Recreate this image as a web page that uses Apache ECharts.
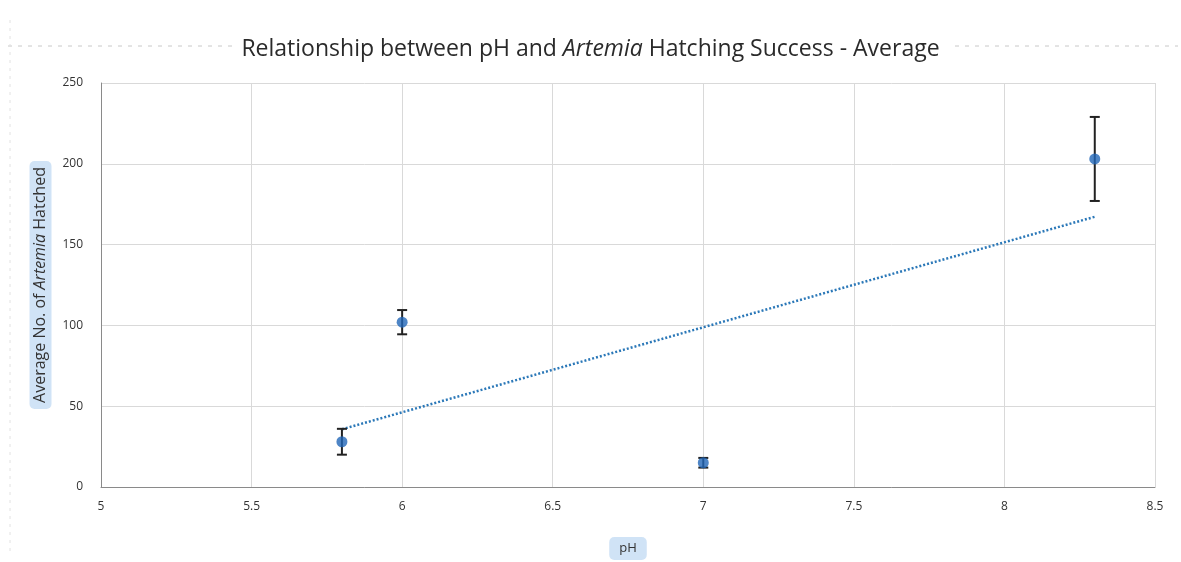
<!DOCTYPE html>
<html>
<head>
<meta charset="utf-8">
<script src="https://cdn.jsdelivr.net/npm/echarts@6/dist/echarts.min.js"></script>
<style>
html,body{margin:0;padding:0;background:#fff;}
#chart{width:1181px;height:562px;}
</style>
</head>
<body>
<div id="chart"></div>
<script>
// ---- data ----
var phValues = [5.8, 6, 7, 8.3];
var avgHatched = [28, 102, 15, 203];
var errorAmount = [8, 7.5, 3, 26];
var xTicks = [5, 5.5, 6, 6.5, 7, 7.5, 8, 8.5];
var yTicks = [0, 50, 100, 150, 200, 250];

// least-squares linear trendline from the data
function linearFit(xs, ys) {
  var n = xs.length, mx = 0, my = 0;
  for (var i = 0; i < n; i++) { mx += xs[i]; my += ys[i]; }
  mx /= n; my /= n;
  var sxx = 0, sxy = 0;
  for (var j = 0; j < n; j++) { sxx += (xs[j]-mx)*(xs[j]-mx); sxy += (xs[j]-mx)*(ys[j]-my); }
  var b = sxy / sxx; return { a: my - b*mx, b: b };
}
var fit = linearFit(phValues, avgHatched);
var xMinData = Math.min.apply(null, phValues), xMaxData = Math.max.apply(null, phValues);
var trendData = [[xMinData, fit.a + fit.b*xMinData], [xMaxData, fit.a + fit.b*xMaxData]];

var pointData = phValues.map(function(x, i){ return [x, avgHatched[i]]; });
var errData = phValues.map(function(x, i){ return [x, avgHatched[i]-errorAmount[i], avgHatched[i]+errorAmount[i]]; });

var chart = echarts.init(document.getElementById('chart'));
var font = '"Open Sans", "Liberation Sans", sans-serif';
chart.setOption({
  backgroundColor: '#fff',
  animation: false,
  title: {
    text: '{n|Relationship between pH and }{i|Artemia}{n| Hatching Success - Average}',
    left: 'center', top: 33,
    textStyle: {
      fontWeight: 'normal',
      rich: {
        n: { fontFamily: font, fontSize: 23, color: '#2a2a2a', fontWeight: 'normal' },
        i: { fontFamily: font, fontSize: 23, color: '#2a2a2a', fontStyle: 'italic', fontWeight: 'normal' }
      }
    }
  },
  graphic: [
    { type: 'line', shape: { x1: 8, y1: 46, x2: 232, y2: 46 }, style: { stroke: '#c8c8c8', lineWidth: 1, lineDash: [4, 6] } },
    { type: 'line', shape: { x1: 955, y1: 46, x2: 1178, y2: 46 }, style: { stroke: '#c8c8c8', lineWidth: 1, lineDash: [4, 6] } },
    { type: 'line', shape: { x1: 10, y1: 20, x2: 10, y2: 555 }, style: { stroke: '#e2e2e2', lineWidth: 1, lineDash: [3, 5] } }
  ],
  grid: { left: 101, right: 26, top: 83, bottom: 75, containLabel: false, outerBoundsMode: 'none' },
  xAxis: {
    type: 'value', min: xTicks[0], max: xTicks[xTicks.length-1], interval: 0.5,
    name: 'pH', nameLocation: 'middle', nameGap: 50,
    nameTextStyle: { fontFamily: font, fontSize: 13, color: '#333', backgroundColor: 'rgba(120,175,230,0.35)', padding: [5, 10, 5, 10], borderRadius: 5 },
    axisLine: { show: true, lineStyle: { color: '#8a8a8a', width: 1 } },
    axisTick: { show: false },
    axisLabel: { fontFamily: font, fontSize: 12, color: '#333', margin: 14 },
    splitLine: { show: true, lineStyle: { color: '#d9d9d9', width: 1 } }
  },
  yAxis: {
    type: 'value', min: yTicks[0], max: yTicks[yTicks.length-1], interval: 50,
    name: '{n|Average No. of }{i|Artemia}{n| Hatched}', nameLocation: 'middle', nameGap: 44, nameRotate: 90,
    nameTextStyle: {
      backgroundColor: 'rgba(120,175,230,0.35)', padding: [3, 6, 3, 6], borderRadius: 5,
      rich: {
        n: { fontFamily: font, fontSize: 16, color: '#333' },
        i: { fontFamily: font, fontSize: 16, color: '#333', fontStyle: 'italic' }
      }
    },
    axisLine: { show: true, lineStyle: { color: '#8a8a8a', width: 1 } },
    axisTick: { show: false },
    axisLabel: { fontFamily: font, fontSize: 12, color: '#333', margin: 18 },
    splitLine: { show: true, lineStyle: { color: '#d9d9d9', width: 1 } }
  },
  series: [
    {
      type: 'line', data: trendData, showSymbol: false, symbol: 'none',
      lineStyle: { color: '#2b78b8', width: 2.5, type: [2, 2] }, z: 2
    },
    {
      type: 'custom', z: 3,
      renderItem: function(params, api) {
        var x = api.value(0);
        var lo = api.coord([x, api.value(1)]);
        var hi = api.coord([x, api.value(2)]);
        var cap = 5;
        var st = { stroke: '#222', lineWidth: 2 };
        return { type: 'group', children: [
          { type: 'line', shape: { x1: lo[0], y1: lo[1], x2: hi[0], y2: hi[1] }, style: st },
          { type: 'line', shape: { x1: lo[0]-cap, y1: lo[1], x2: lo[0]+cap, y2: lo[1] }, style: st },
          { type: 'line', shape: { x1: hi[0]-cap, y1: hi[1], x2: hi[0]+cap, y2: hi[1] }, style: st }
        ]};
      },
      encode: { x: 0, y: [1, 2] },
      data: errData
    },
    {
      type: 'scatter', data: pointData, symbol: 'circle', symbolSize: 11, z: 4,
      itemStyle: { color: '#2266b8' }
    }
  ]
});
</script>
</body>
</html>
